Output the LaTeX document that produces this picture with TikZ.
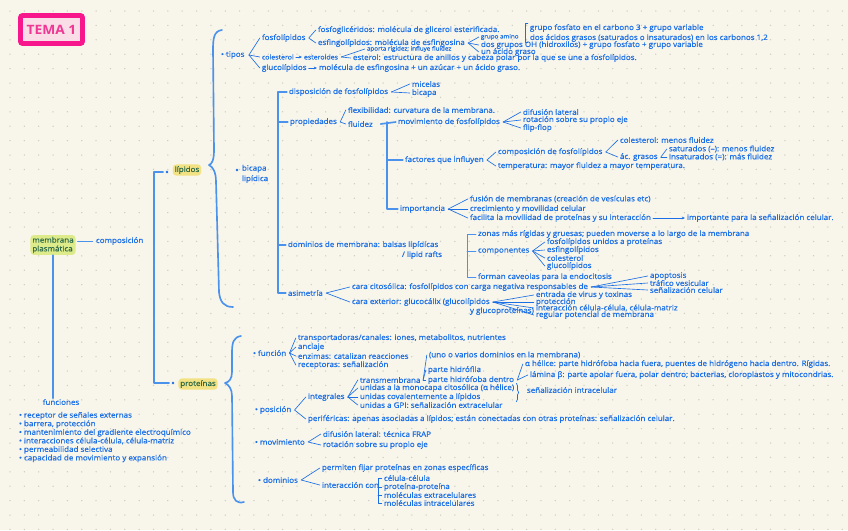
\documentclass[tikz,border=0pt]{standalone}
\usepackage{fontspec}
\setmainfont[FakeStretch=1.07]{Open Sans}
\newfontfamily\handfont[FakeStretch=1.07,FakeBold=0.6]{Open Sans}
\usetikzlibrary{positioning,arrows.meta,decorations.pathreplacing}
\definecolor{paper}{HTML}{F8F5EA}
\definecolor{dotc}{HTML}{CFCCC2}
\definecolor{ink}{HTML}{1B6FE6}
\definecolor{lineblue}{HTML}{4A92EC}
\definecolor{hlgreen}{HTML}{DDEB8A}
\definecolor{hlyellow}{HTML}{F3E284}
\definecolor{hlink}{HTML}{2F6B4A}
\definecolor{pinkline}{HTML}{F8168D}
\definecolor{pinkfill}{HTML}{F9DDE7}
\definecolor{pinktext}{HTML}{EE3894}
\newcommand{\handsize}{\handfont\fontsize{6.4}{7.4}\selectfont}

\begin{document}
\begin{tikzpicture}[
  x=0.03cm, y=-0.03cm,
  txt/.style={anchor=west, inner sep=0.6pt, text=ink, font=\handsize},
  tiny/.style={font=\handfont\fontsize{5}{6}\selectfont},
  smallish/.style={font=\handfont\fontsize{5.6}{6.5}\selectfont},
  hl/.style={rounded corners=3pt, inner sep=1.6pt, text=hlink, font=\handsize},
  bul/.style={circle, fill=ink, inner sep=0pt, minimum size=2.3pt},
  fan/.style={draw=ink, line width=0.55pt, line cap=round, line join=round},
  arr/.style={fan, -{Stealth[length=2.6pt, width=2.4pt]}},
  brk/.style={draw=lineblue, line width=0.8pt, line cap=round, line join=round},
  bar/.style={draw=lineblue, line width=1.4pt, line cap=round, line join=round},
  titlebox/.style={draw=pinkline, line width=4.2pt, fill=pinkfill, rounded corners=2pt,
    minimum width=1.86cm, minimum height=0.84cm, text=pinktext,
    font=\fontsize{11}{12}\selectfont\bfseries}
]
% paper and dot grid
\fill[paper] (0,0) rectangle (848,530);
\useasboundingbox (0,0) rectangle (848,530);
\foreach \i in {0,...,58}
  \foreach \j in {0,...,36}
    \fill[dotc] (10+14.35*\i, 11+14.4*\j) circle (0.75);

\node[titlebox] (tema) at (51.5,29.5) {TEMA 1};

% membrana, composicion, funciones
\node[hl, fill=hlgreen, align=left] (membrana) at (53,245) {membrana\\plasmática};
\node[txt] (composicion) at (95,241) {composición};
\draw[brk] ([xshift=1.5pt]membrana.east |- composicion) -- ([xshift=-2pt]composicion.west);
\node[txt, anchor=center] (funciones) at (61,402) {funciones};
\draw[bar] (membrana.south) -- (membrana.south |- funciones.north);
\node[txt, anchor=north west, align=left, font=\handfont\fontsize{6.4}{7.3}\selectfont] (funclist) at (18,411)
  {• receptor de señales externas\\• barrera, protección\\• mantenimiento del gradiente electroquímico\\
   • interacciones célula-célula, célula-matriz\\• permeabilidad selectiva\\• capacidad de movimiento y expansión};

\node[bul] (lipdot) at (167,172) {};
\node[hl, fill=hlyellow] (lipidos) at (187,170) {lípidos};
\node[bul] (protdot) at (173,383) {};
\node[hl, fill=hlyellow] (proteinas) at (198,384) {proteínas};
\coordinate (compx) at (154,0);
\draw[bar] ([xshift=-2pt]lipdot.west) -- (lipdot.west -| compx) -- (protdot.west -| compx) -- ([xshift=-2pt]protdot.west);

% lipidos
\coordinate (lipcusp) at (209,165);
\draw[bar] (222,30) .. controls (214,31) and (213,38) .. (213,50)
  -- (214,150) .. controls (214,160) and (212,164) .. (lipcusp)
  .. controls (213,167) and (216,172) .. (216,182)
  -- (219,292) .. controls (220,302) and (224,307) .. (233,307);

\node[txt] (tipos) at (220,55) {• tipos};
\node[txt] (fosfolip) at (261,38) {fosfolípidos};
\node[txt] (fosfogli) at (317,30) {fosfoglicéridos: molécula de glicerol esterificada.};
\node[txt] (fosfato) at (529,28) {grupo fosfato en el carbono 3 + grupo variable};
\node[txt] (acidos) at (529,38) {dos ácidos grasos (saturados o insaturados) en los carbonos 1,2};
\node[txt] (esfingo) at (317,43) {esfingolípidos: molécula de esfingosina};
\node[txt, tiny] (amino) at (480,37) {grupo amino};
\node[txt] (grupos) at (480,45) {dos grupos OH (hidroxilos) + grupo fosfato + grupo variable};
\node[txt] (acgraso) at (480,52) {un ácido graso};
\node[txt, smallish] (colest) at (261,57) {colesterol};
\node[txt, smallish] (esteroides) at (303,57) {esteroides};
\node[txt, tiny] (rigidez) at (366,49) {aporta rigidez; influye fluidez};
\node[txt] (anillos) at (352,58) {esterol: estructura de anillos y cabeza polar por la que se une a fosfolípidos.};
\node[txt] (glucolip) at (261,68) {glucolípidos};
\node[txt] (glucomol) at (318,68) {molécula de esfingosina + un azúcar + un ácido graso.};

\foreach \c in {fosfolip,colest,glucolip} \draw[fan] ([xshift=3pt]tipos.east) -- ([xshift=-1pt]\c.west);
\foreach \c in {fosfogli,esfingo} \draw[fan] ([xshift=2pt]fosfolip.east) -- ([xshift=-1pt]\c.west);
\draw[fan] ([xshift=-1pt]fosfato.north west) -- ++(-2.5,0) |- ([xshift=-1pt]acidos.south west);
\foreach \c in {amino,grupos,acgraso} \draw[fan] ([xshift=2pt]esfingo.east) -- ([xshift=-1pt]\c.west);
\draw[arr] ([xshift=1pt]colest.east) -- ([xshift=-1pt]esteroides.west);
\foreach \c in {rigidez,anillos} \draw[fan] ([xshift=2pt]esteroides.east) -- ([xshift=-1pt]\c.west);
\draw[arr] ([xshift=1pt]glucolip.east) -- ([xshift=-1pt]glucomol.west);

% bicapa lipidica
\node[bul] (bicdot) at (237,170) {};
\node[txt, anchor=north west, align=left] (bicapa) at (241,164) {bicapa\\[1.5pt]lipídica};
\node[txt] (dispos) at (288,92) {disposición de fosfolípidos};
\node[txt] (micelas) at (411,84) {micelas};
\node[txt] (bicapa2) at (411,93) {bicapa};
\node[txt] (propied) at (289,122) {propiedades};
\node[txt] (flexib) at (347,110) {flexibilidad: curvatura de la membrana.};
\node[txt] (fluidez) at (347,124) {fluidez};
\node[txt] (movim) at (397,122) {movimiento de fosfolípidos};
\node[txt] (difus) at (522,112) {difusión lateral};
\node[txt] (rotac) at (522,120) {rotación sobre su propio eje};
\node[txt] (flip) at (522,128) {flip-flop};
\node[txt] (factores) at (404,160) {factores que influyen};
\node[txt] (compos) at (497,152) {composición de fosfolípidos};
\node[txt] (colmenos) at (619,140) {colesterol: menos fluidez};
\node[txt] (acgrasos) at (619,157) {ác. grasos};
\node[txt] (saturados) at (668,149) {saturados (–): menos fluidez};
\node[txt] (insat) at (668,157) {insaturados (=): más fluidez};
\node[txt] (temper) at (497,166) {temperatura: mayor fluidez a mayor temperatura.};
\node[txt] (importancia) at (399,209) {importancia};
\node[txt] (fusion) at (469,199) {fusión de membranas (creación de vesículas etc)};
\node[txt] (crecim) at (469,209) {crecimiento y movilidad celular};
\node[txt] (facilita) at (469,218) {facilita la movilidad de proteínas y su interacción};
\node[txt] (importante) at (686,218) {importante para la señalización celular.};
\node[txt] (dominios) at (287,245) {dominios de membrana: balsas lipídicas};
\node[txt] (rafts) at (401,255) {/ lipid rafts};
\node[txt] (zonas) at (477,234) {zonas más rígidas y gruesas; pueden moverse a lo largo de la membrana};
\node[txt] (componentes) at (477,251) {componentes};
\node[txt] (fosfoprot) at (546,242) {fosfolípidos unidos a proteínas};
\node[txt] (esfing2) at (546,250) {esfingolípidos};
\node[txt] (coles2) at (546,258) {colesterol};
\node[txt] (gluco2) at (546,266) {glucolípidos};
\node[txt] (caveolas) at (477,277) {forman caveolas para la endocitosis};
\node[txt] (asimetria) at (287,293) {asimetría};
\node[txt] (citosol) at (351,287) {cara citosólica: fosfolípidos con carga negativa responsables de};
\node[txt] (apopt) at (649,276) {apoptosis};
\node[txt] (trafico) at (649,283) {tráfico vesicular};
\node[txt] (senal) at (649,290) {señalización celular};
\node[txt] (exterior) at (351,302) {cara exterior: glucocálix (glucolípidos};
\node[txt] (glucoprot) at (469,311) {y glucoproteínas)};
\node[txt] (virus) at (535,295) {entrada de virus y toxinas};
\node[txt] (protec) at (535,302) {protección};
\node[txt] (interac) at (535,308) {interacción célula-célula, célula-matriz};
\node[txt] (potencial) at (535,315) {regular potencial de membrana};

\coordinate (bicx) at (278,0);
\draw[bar] ([xshift=-1pt]dispos.west) -- (dispos.west -| bicx) -- (asimetria.west -| bicx) -- ([xshift=-1pt]asimetria.west);
\foreach \n in {propied,dominios} \draw[bar] (\n.west -| bicx) -- ([xshift=-1pt]\n.west);
\foreach \c in {micelas,bicapa2} \draw[fan] ([xshift=2pt]dispos.east) -- ([xshift=-1pt]\c.west);
\foreach \c in {flexib,fluidez} \draw[fan] ([xshift=2pt]propied.east) -- ([xshift=-1pt]\c.west);
\coordinate (flx) at (387,0);
\draw[bar] ([xshift=6pt]fluidez.east) -- ([xshift=-1pt]movim.west);
\draw[bar] (movim.west -| flx) -- (importancia.west -| flx) -- ([xshift=-1pt]importancia.west);
\draw[bar] (factores.west -| flx) -- ([xshift=-1pt]factores.west);
\foreach \c in {difus,rotac,flip} \draw[fan] ([xshift=2pt]movim.east) -- ([xshift=-1pt]\c.west);
\foreach \c in {compos,temper} \draw[fan] ([xshift=2pt]factores.east) -- ([xshift=-1pt]\c.west);
\foreach \c in {colmenos,acgrasos} \draw[fan] ([xshift=2pt]compos.east) -- ([xshift=-1pt]\c.west);
\foreach \c in {saturados,insat} \draw[fan] ([xshift=2pt]acgrasos.east) -- ([xshift=-1pt]\c.west);
\foreach \c in {fusion,crecim,facilita} \draw[fan] ([xshift=2pt]importancia.east) -- ([xshift=-1pt]\c.west);
\draw[arr] ([xshift=1pt]facilita.east) -- ([xshift=-1pt]importante.west);
\coordinate (domx) at (467,0);
\draw[brk] ([xshift=-1pt]zonas.west) -- (zonas.west -| domx) -- (caveolas.west -| domx) -- ([xshift=-1pt]caveolas.west);
\draw[brk] (componentes.west -| domx) -- ([xshift=-1pt]componentes.west);
\foreach \c in {fosfoprot,esfing2,coles2,gluco2} \draw[fan] ([xshift=2pt]componentes.east) -- ([xshift=-1pt]\c.west);
\foreach \c in {citosol,exterior} \draw[fan] ([xshift=2pt]asimetria.east) -- ([xshift=-1pt]\c.west);
\foreach \c in {apopt,trafico,senal} \draw[fan] ([xshift=2pt]citosol.east) -- ([xshift=-1pt]\c.west);
\foreach \c in {virus,protec,interac,potencial} \draw[fan] ([xshift=2pt]exterior.east) -- ([xshift=-1pt]\c.west);

% proteinas
\coordinate (protcusp) at (225,383);
\draw[bar] (241,336) .. controls (234,337) and (232,342) .. (232,352)
  -- (232,372) .. controls (232,379) and (229,382) .. (protcusp)
  .. controls (229,385) and (232,389) .. (232,396)
  -- (233,492) .. controls (233,500) and (237,504) .. (244,502);

\node[txt] (funcion) at (252,353) {• función};
\node[txt] (transp) at (297,338) {transportadoras/canales: iones, metabolitos, nutrientes};
\node[txt] (anclaje) at (297,347) {anclaje};
\node[txt] (enzimas) at (297,356) {enzimas: catalizan reacciones};
\node[txt] (recept) at (297,365) {receptoras: señalización};
\node[txt] (uno) at (428,355) {(uno o varios dominios en la membrana)};
\node[txt] (hidrofila) at (427,370) {parte hidrófila};
\node[txt] (hidrofoba) at (427,380) {parte hidrófoba dentro};
\node[txt] (transm) at (359,380) {transmembrana};
\node[txt] (helice) at (524,364) {α hélice: parte hidrófoba hacia fuera, puentes de hidrógeno hacia dentro. Rígidas.};
\node[txt] (lamina) at (529,375) {lámina β: parte apolar fuera, polar dentro; bacterias, cloroplastos y mitocondrias.};
\node[txt] (monocapa) at (359,388) {unidas a la monocapa citosólica (α hélice)};
\node[txt] (intracel) at (526,390) {señalización intracelular};
\node[txt] (covalent) at (359,397) {unidas covalentemente a lípidos};
\node[txt] (gpi) at (359,405) {unidas a GPI: señalización extracelular};
\node[txt] (integrales) at (307,397) {integrales};
\node[txt] (posicion) at (254,410) {• posición};
\node[txt] (perif) at (307,419) {periféricas: apenas asociadas a lípidos; están conectadas con otras proteínas: señalización celular.};
\node[txt] (movimiento) at (254,442) {• movimiento};
\node[txt] (difus2) at (322,434) {difusión lateral: técnica FRAP};
\node[txt] (rotac2) at (322,445) {rotación sobre su propio eje};
\node[txt] (domprot) at (257,480) {• dominios};
\node[txt] (fijar) at (321,468) {permiten fijar proteínas en zonas específicas};
\node[txt] (intercon) at (321,485) {interacción con};
\node[txt] (cc) at (383,478) {célula-célula};
\node[txt] (pp) at (383,487) {proteína-proteína};
\node[txt] (mext) at (383,495) {moléculas extracelulares};
\node[txt] (mint) at (383,503) {moléculas intracelulares};

\foreach \c in {transp,anclaje,enzimas,recept} \draw[fan] ([xshift=2pt]funcion.east) -- ([xshift=-1pt]\c.west);
\foreach \c in {integrales,perif} \draw[fan] ([xshift=2pt]posicion.east) -- ([xshift=-1pt]\c.west);
\foreach \c in {transm,monocapa,covalent,gpi} \draw[fan] ([xshift=2pt]integrales.east) -- ([xshift=-1pt]\c.west);
\foreach \c in {uno,hidrofila,hidrofoba} \draw[fan] ([xshift=1.5pt]transm.east) -- ([xshift=-1pt]\c.west);
\foreach \c in {helice,lamina} \draw[fan] ([xshift=2pt]hidrofoba.east) -- ([xshift=-1pt]\c.west);
\draw[fan, decorate, decoration={brace, amplitude=2pt}] ([xshift=1pt]monocapa.north east) -- ([xshift=1pt]monocapa.north east |- covalent.south);
\foreach \c in {difus2,rotac2} \draw[fan] ([xshift=2pt]movimiento.east) -- ([xshift=-1pt]\c.west);
\foreach \c in {fijar,intercon} \draw[fan] ([xshift=2pt]domprot.east) -- ([xshift=-1pt]\c.west);
\coordinate (intx) at (378,0);
\draw[fan] ([xshift=-1pt]cc.west) -- (cc.west -| intx) -- (mint.west -| intx) -- ([xshift=-1pt]mint.west);
\foreach \n in {pp,mext} \draw[fan] (\n.west -| intx) -- ([xshift=-1pt]\n.west);
\end{tikzpicture}
\end{document}
